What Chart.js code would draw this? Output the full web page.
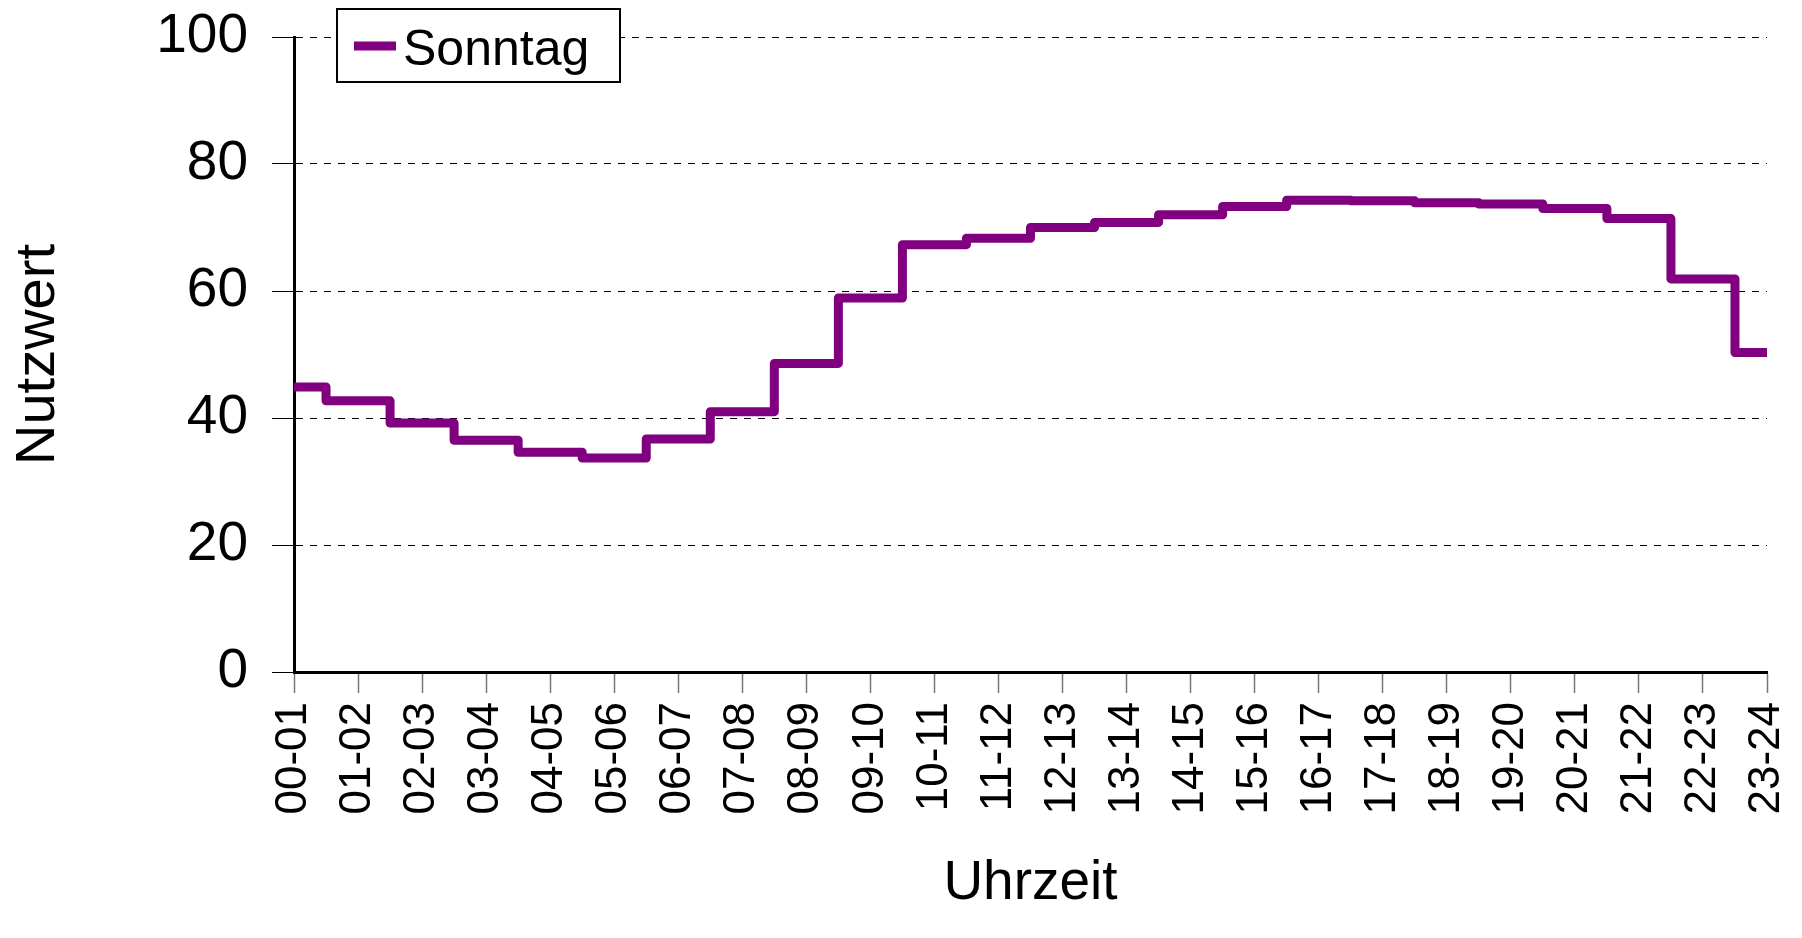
<!DOCTYPE html>
<html>
<head>
<meta charset="utf-8">
<title>Nutzwert Sonntag</title>
<script src="https://cdn.jsdelivr.net/npm/chart.js@4/dist/chart.umd.min.js"></script>
<style>
    html, body { margin: 0; padding: 0; background: #fff; }
    #id_chart { display: block; }
</style>
</head>
<body>
<canvas id="id_chart" width="1802" height="938"></canvas>
<script>
// Uhrzeit (Stundenintervalle)
var HOUR_LABELS = [
    "00-01", "01-02", "02-03", "03-04", "04-05", "05-06",
    "06-07", "07-08", "08-09", "09-10", "10-11", "11-12",
    "12-13", "13-14", "14-15", "15-16", "16-17", "17-18",
    "18-19", "19-20", "20-21", "21-22", "22-23", "23-24"
];
// Nutzwert Sonntag
var SONNTAG_VALUES = [
    44.9, 42.7, 39.2, 36.5, 34.6, 33.7,
    36.7, 41.0, 48.6, 58.9, 67.3, 68.3,
    70.0, 70.8, 72.0, 73.3, 74.3, 74.2,
    73.9, 73.7, 73.0, 71.4, 61.9, 50.3
];
var Y_TICKS = [0, 20, 40, 60, 80, 100];

var SERIES_NAME = "Sonntag";
var SERIES_COLOR = "#800080";
var FONT_FAMILY = "'Liberation Sans', Arial, sans-serif";

// Legende mit Rahmen, oben links im Diagramm
var boxLegendPlugin = {
    id: "boxLegend",
    afterDraw: function( chart ){
        var ctx = chart.ctx;
        var area = chart.chartArea;
        var x = area.left + 43, y = 9, w = 283, h = 73;
        ctx.save();
        ctx.fillStyle = "#fff";
        ctx.fillRect( x, y, w, h );
        ctx.lineWidth = 2;
        ctx.strokeStyle = "#000";
        ctx.strokeRect( x, y, w, h );
        ctx.beginPath();
        ctx.lineWidth = 9;
        ctx.strokeStyle = SERIES_COLOR;
        ctx.moveTo( x + 17, 46 );
        ctx.lineTo( x + 59, 46 );
        ctx.stroke();
        ctx.fillStyle = "#000";
        ctx.font = "50px " + FONT_FAMILY;
        ctx.textBaseline = "alphabetic";
        ctx.textAlign = "left";
        ctx.fillText( SERIES_NAME, x + 66, 65 );
        ctx.restore();
    }
};

// Achsen: feste Größe, keine Zusatzränder durch Beschriftungen
var fixScaleBox = function( size ){
    return function( scale ){
        if( scale.isHorizontal() ){
            scale.height = size;
        }else{
            scale.width = size;
        }
        scale.paddingTop = 0;
        scale.paddingBottom = 0;
        scale.paddingLeft = 0;
        scale.paddingRight = 0;
    };
};

var ctx = document.getElementById("id_chart").getContext("2d");
var myChart = new Chart(ctx, {
    "type" : "line",
    "data" : {
        "labels" : HOUR_LABELS,
        "datasets" : [{
            "label" : SERIES_NAME,
            "data" : SONNTAG_VALUES,
            "borderColor" : SERIES_COLOR,
            "backgroundColor" : SERIES_COLOR,
            "borderWidth" : 9,
            "borderJoinStyle" : "round",
            "stepped" : "middle",
            "pointRadius" : 0,
            "fill" : false
        }]
    },
    "options" : {
        "responsive" : false,
        "animation" : false,
        "layout" : {
            "padding" : { "left": 0, "right": 35, "top": 37, "bottom": 0 }
        },
        "plugins" : {
            "legend" : { "display" : false },
            "tooltip" : { "enabled" : false }
        },
        "scales" : {
            "x" : {
                "type" : "category",
                "offset" : false,
                "grid" : {
                    "display" : true,
                    "drawOnChartArea" : false,
                    "drawTicks" : true,
                    "tickLength" : 21,
                    "tickColor" : "#777",
                    "tickWidth" : 1.5
                },
                "border" : { "display" : true, "color" : "#000", "width" : 3 },
                "ticks" : {
                    "autoSkip" : false,
                    "minRotation" : 90,
                    "maxRotation" : 90,
                    "padding" : 9,
                    "color" : "#000",
                    "font" : { "family" : FONT_FAMILY, "size" : 44 }
                },
                "title" : {
                    "display" : true,
                    "text" : "Uhrzeit",
                    "color" : "#000",
                    "font" : { "family" : FONT_FAMILY, "size" : 55 },
                    "padding" : { "top" : 0, "bottom" : 21 }
                },
                "afterFit" : fixScaleBox( 266 )
            },
            "y" : {
                "min" : 0,
                "max" : 100,
                "afterBuildTicks" : function( scale ){
                    scale.ticks = Y_TICKS.map(function( v ){ return { "value" : v }; });
                },
                "grid" : {
                    "color" : "#000",
                    "lineWidth" : 1,
                    "tickLength" : 22,
                    "tickColor" : "#000",
                    "tickBorderDash" : []
                },
                "border" : { "display" : true, "color" : "#000", "width" : 3, "dash" : [7, 7] },
                "ticks" : {
                    "padding" : 24,
                    "color" : "#000",
                    "font" : { "family" : FONT_FAMILY, "size" : 55 }
                },
                "title" : {
                    "display" : true,
                    "text" : "Nutzwert",
                    "color" : "#000",
                    "font" : { "family" : FONT_FAMILY, "size" : 56 },
                    "padding" : { "top" : 5, "bottom" : 0 }
                },
                "afterFit" : fixScaleBox( 294 )
            }
        }
    },
    "plugins" : [ boxLegendPlugin ]
});
</script>
</body>
</html>
